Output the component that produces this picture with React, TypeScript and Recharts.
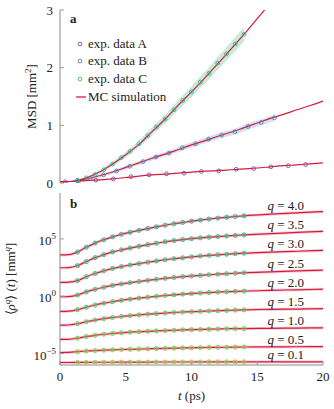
import React from 'react'
import { ComposedChart, Line, Area, XAxis, YAxis, Legend, LabelList } from 'recharts'

const FONT = '"Liberation Serif", "Times New Roman", serif'
const RED = '#d7193f'
const HALO = '#f3a2b3'
const FRAME = '#8a8a8a'
const TICK = '#9a9a9a'
const INK = '#222'

const T_TICKS = [0, 5, 10, 15, 20]
const MSD_TICKS = [0, 1, 2, 3]
const RHO_TICKS = [1e-5, 1, 1e5]

// panel a: MC simulation lines
const T_MC = [0, 1, 2, 3, 4, 5, 6, 7, 8, 9, 10, 11, 12, 13, 14, 15, 16, 17, 18, 19, 20]
const MC_A = [0.02, 0.03, 0.04, 0.055, 0.07, 0.095, 0.12, 0.14, 0.155, 0.17, 0.19, 0.205, 0.215, 0.23, 0.245, 0.26, 0.28, 0.3, 0.315, 0.333, 0.35]
const MC_B = [0.02, 0.03, 0.07, 0.125, 0.19, 0.27, 0.35, 0.43, 0.5, 0.58, 0.66, 0.73, 0.81, 0.88, 0.96, 1.04, 1.12, 1.19, 1.27, 1.34, 1.42]
const MC_C = [0.02, 0.03, 0.09, 0.19, 0.33, 0.49, 0.67, 0.89, 1.11, 1.35, 1.58, 1.82, 2.07, 2.32, 2.58, 2.85, 3.12, 3.39, 3.66, 3.93, 4.2]

// panel a: experimental points
const T_EXP_A = [0.4, 1.4, 2.72, 4.05, 5.4, 6.77, 8.1, 9.43, 10.75, 12.07, 13.4, 14.73, 16.04, 17.36, 18.68]
const EXP_A = [0.02, 0.03, 0.05, 0.07, 0.11, 0.14, 0.16, 0.17, 0.2, 0.21, 0.24, 0.25, 0.28, 0.3, 0.32]
const T_EXP_B = [1.3, 2.3, 3.3, 4.3, 5.3, 6.3, 7.3, 8.3, 9.3, 10.3, 11.3, 12.3, 13.3, 14.3, 15.3, 16.3]
const EXP_B = [0.04, 0.08, 0.14, 0.21, 0.29, 0.37, 0.45, 0.52, 0.61, 0.68, 0.76, 0.83, 0.89, 0.98, 1.05, 1.13]
const SPREAD_B = [0.01, 0.02, 0.025, 0.03, 0.035, 0.035, 0.04, 0.04, 0.045, 0.045, 0.05, 0.05, 0.05, 0.055, 0.055, 0.055]
const T_EXP_C = [1.33, 2, 2.67, 3.33, 4, 4.67, 5.33, 6, 6.67, 7.33, 8, 8.67, 9.33, 10, 10.67, 11.33, 12, 12.67, 13.33, 14]
const EXP_C = [0.05, 0.09, 0.15, 0.23, 0.33, 0.44, 0.55, 0.68, 0.82, 0.97, 1.11, 1.27, 1.43, 1.58, 1.75, 1.9, 2.08, 2.24, 2.41, 2.58]
const SPREAD_C = [0.01, 0.02, 0.025, 0.035, 0.04, 0.045, 0.05, 0.06, 0.065, 0.07, 0.075, 0.08, 0.09, 0.095, 0.1, 0.105, 0.11, 0.115, 0.12, 0.12]

// panel b: log10 of <rho^q>(t)
const T_Q = [0, 0.67, 1.33, 2, 2.67, 3.33, 4, 4.67, 5.33, 6, 6.67, 7.33, 8, 8.67, 9.33, 10, 10.67, 11.33, 12, 12.67, 13.33, 14, 16, 18, 20]
const Q40 = [3.6, 3.62, 3.85, 4.27, 4.63, 4.92, 5.18, 5.4, 5.57, 5.74, 5.9, 6.05, 6.19, 6.32, 6.43, 6.54, 6.64, 6.73, 6.81, 6.88, 6.95, 7.01, 7.15, 7.27, 7.38]
const Q35 = [2.48, 2.5, 2.66, 3.02, 3.36, 3.62, 3.86, 4.04, 4.2, 4.35, 4.49, 4.62, 4.75, 4.85, 4.94, 5.02, 5.09, 5.15, 5.2, 5.25, 5.3, 5.35, 5.45, 5.56, 5.66]
const Q30 = [1.2, 1.22, 1.36, 1.7, 1.98, 2.21, 2.42, 2.58, 2.72, 2.84, 2.96, 3.07, 3.18, 3.27, 3.35, 3.43, 3.5, 3.56, 3.61, 3.66, 3.71, 3.75, 3.84, 3.92, 3.99]
const Q25 = [-0.05, -0.03, 0.1, 0.38, 0.6, 0.78, 0.94, 1.07, 1.18, 1.28, 1.38, 1.47, 1.56, 1.63, 1.7, 1.76, 1.82, 1.87, 1.92, 1.96, 2.0, 2.04, 2.12, 2.2, 2.27]
const Q20 = [-1.33, -1.31, -1.18, -0.96, -0.77, -0.61, -0.48, -0.36, -0.26, -0.17, -0.09, -0.01, 0.06, 0.12, 0.18, 0.23, 0.28, 0.32, 0.36, 0.39, 0.42, 0.45, 0.51, 0.56, 0.61]
const Q15 = [-2.53, -2.51, -2.4, -2.23, -2.08, -1.96, -1.86, -1.77, -1.7, -1.63, -1.57, -1.52, -1.47, -1.42, -1.38, -1.35, -1.32, -1.29, -1.26, -1.24, -1.21, -1.19, -1.15, -1.12, -1.09]
const Q10 = [-3.77, -3.76, -3.66, -3.52, -3.41, -3.32, -3.25, -3.19, -3.14, -3.1, -3.06, -3.03, -3.0, -2.97, -2.94, -2.92, -2.9, -2.88, -2.86, -2.84, -2.83, -2.82, -2.8, -2.78, -2.76]
const Q05 = [-4.91, -4.9, -4.84, -4.78, -4.74, -4.71, -4.68, -4.65, -4.63, -4.61, -4.59, -4.57, -4.55, -4.53, -4.51, -4.5, -4.48, -4.47, -4.46, -4.45, -4.44, -4.43, -4.42, -4.41, -4.4]
const Q01 = [-5.78, -5.78, -5.77, -5.77, -5.76, -5.76, -5.76, -5.75, -5.75, -5.75, -5.75, -5.74, -5.74, -5.74, -5.74, -5.74, -5.73, -5.73, -5.73, -5.73, -5.73, -5.73, -5.72, -5.72, -5.72]

const Q_SERIES = [
  { key: 'q40', label: '4.0', exps: Q40, color: '#3fb68b' },
  { key: 'q35', label: '3.5', exps: Q35, color: '#45ba86' },
  { key: 'q30', label: '3.0', exps: Q30, color: '#4dbd80' },
  { key: 'q25', label: '2.5', exps: Q25, color: '#57c07a' },
  { key: 'q20', label: '2.0', exps: Q20, color: '#62c373' },
  { key: 'q15', label: '1.5', exps: Q15, color: '#6ec76b' },
  { key: 'q10', label: '1.0', exps: Q10, color: '#7bcb62' },
  { key: 'q05', label: '0.5', exps: Q05, color: '#89cf58' },
  { key: 'q01', label: '0.1', exps: Q01, color: '#97d34e' },
]
const MARK_FROM = 2
const MARK_TO = 22
const LABEL_AT = 23

const LEGEND = [
  { name: 'exp. data A', color: '#7d4e9c', kind: 'dot' },
  { name: 'exp. data B', color: '#4f7fb8', kind: 'dot' },
  { name: 'exp. data C', color: '#3ab58a', kind: 'dot' },
  { name: 'MC simulation', color: RED, kind: 'line' },
]

const pts = (ts: number[], vs: number[]) => ts.map((t, i) => ({ t, v: vs[i] }))
const band = (ts: number[], vs: number[], ws: number[]) =>
  ts.map((t, i) => ({ t, range: [vs[i] - ws[i], vs[i] + ws[i]] }))

const qRows = T_Q.map((t, i) => {
  const row: Record<string, number> = { t }
  Q_SERIES.forEach((s) => {
    row[s.key] = Math.pow(10, s.exps[i])
  })
  return row
})

function LegendBox() {
  return (
    <div style={{ fontSize: 13, color: INK, fontFamily: FONT }}>
      {LEGEND.map((r) => (
        <div key={r.name} style={{ display: 'flex', alignItems: 'center', height: 17.6 }}>
          <svg width={16} height={10}>
            {r.kind === 'dot' ? (
              <circle cx={8} cy={5} r={1.9} fill="none" stroke={r.color} strokeWidth={0.9} />
            ) : (
              <line x1={4} x2={14} y1={5} y2={5} stroke={r.color} strokeWidth={1.3} />
            )}
          </svg>
          <span>{r.name}</span>
        </div>
      ))}
    </div>
  )
}

function NumTick(props: any) {
  const { x, y, payload } = props
  return (
    <text x={x} y={y + 4.5} textAnchor="end" fontSize={13} fill={INK}>
      {String(payload.value)}
    </text>
  )
}

function PowTick(props: any) {
  const { x, y, payload } = props
  const e = Math.round(Math.log10(payload.value))
  return (
    <text x={x} y={y + 6} textAnchor="end" fontSize={13} fill={INK}>
      10
      <tspan dy={-6} fontSize={9}>
        {e < 0 ? '\u2212' + Math.abs(e) : String(e)}
      </tspan>
    </text>
  )
}

function qLabel(text: string) {
  return (props: any) => {
    if (props.index !== LABEL_AT) return null
    const x = props.viewBox?.x ?? props.x
    const y = props.viewBox?.y ?? props.y
    return (
      <text x={x - 11} y={y - 3} textAnchor="middle" fontSize={13} fill={INK}>
        <tspan fontStyle="italic">q</tspan>
        <tspan>{' = ' + text}</tspan>
      </text>
    )
  }
}

const msdLabel = (props: any) => {
  const vb = props.viewBox
  const cy = vb.y + vb.height / 2
  return (
    <text transform={`translate(36, ${cy}) rotate(-90)`} textAnchor="middle" fontSize={13} fill={INK}>
      MSD [mm
      <tspan dy={-5} fontSize={9}>2</tspan>
      <tspan dy={5}>]</tspan>
    </text>
  )
}

const rhoLabel = (props: any) => {
  const vb = props.viewBox
  const cy = vb.y + vb.height / 2
  return (
    <text transform={`translate(15, ${cy}) rotate(-90)`} textAnchor="middle" fontSize={13} fill={INK}>
      {'\u27e8'}
      <tspan fontStyle="italic">ρ</tspan>
      <tspan dy={-5} fontSize={9} fontStyle="italic">q</tspan>
      <tspan dy={5}>{'\u27e9 ('}</tspan>
      <tspan fontStyle="italic">t</tspan>
      <tspan>{') [mm'}</tspan>
      <tspan dy={-5} fontSize={9} fontStyle="italic">q</tspan>
      <tspan dy={5}>]</tspan>
    </text>
  )
}

const timeLabel = (props: any) => {
  const vb = props.viewBox
  return (
    <text x={vb.x + vb.width / 2} y={vb.y + 35} textAnchor="middle" fontSize={13} fill={INK}>
      <tspan fontStyle="italic">t</tspan>
      <tspan>{' (ps)'}</tspan>
    </text>
  )
}

function PanelA() {
  return (
    <ComposedChart width={334} height={196} margin={{ top: 10, right: 11, bottom: 13, left: 0 }}>
      <XAxis dataKey="t" type="number" domain={[0, 20]} ticks={T_TICKS} interval={0} height={0} tick={false}
        tickSize={-4} axisLine={{ stroke: FRAME }} tickLine={{ stroke: TICK }} allowDataOverflow />
      <XAxis xAxisId="top" orientation="top" type="number" domain={[0, 20]} ticks={T_TICKS} interval={0} height={0}
        tick={false} tickSize={-4} axisLine={{ stroke: FRAME }} tickLine={{ stroke: TICK }} allowDataOverflow />
      <YAxis type="number" domain={[0, 3]} ticks={MSD_TICKS} interval={0} width={60} tickSize={-4} tickMargin={11}
        tick={<NumTick />} axisLine={{ stroke: FRAME }} tickLine={{ stroke: TICK }}
        allowDataOverflow label={{ content: msdLabel }} />
      <YAxis yAxisId="right" orientation="right" type="number" domain={[0, 3]} ticks={MSD_TICKS} interval={0}
        width={0} tick={false} tickSize={-4} axisLine={{ stroke: FRAME }} tickLine={{ stroke: TICK }} allowDataOverflow />
      <Legend layout="vertical" align="center" verticalAlign="middle"
        wrapperStyle={{ top: 35, left: 72, width: 140 }} content={() => <LegendBox />} />

      <Area data={band(T_EXP_C, EXP_C, SPREAD_C)} dataKey="range" type="monotone" stroke="none"
        fill="#b9e6d0" fillOpacity={0.8} isAnimationActive={false} legendType="none" />
      <Area data={band(T_EXP_B, EXP_B, SPREAD_B)} dataKey="range" type="monotone" stroke="none"
        fill="#c9d9ee" fillOpacity={0.8} isAnimationActive={false} legendType="none" />

      {[MC_A, MC_B, MC_C].map((vs, i) => (
        <Line key={'mc' + i} data={pts(T_MC, vs)} dataKey="v" type="monotone" stroke={RED} strokeWidth={1.2}
          dot={false} activeDot={false} isAnimationActive={false} />
      ))}

      <Line data={pts(T_EXP_A, EXP_A)} dataKey="v" stroke="none" isAnimationActive={false} activeDot={false}
        dot={{ r: 1.9, stroke: '#7d4e9c', strokeWidth: 0.9, fill: 'none' }} />
      <Line data={pts(T_EXP_B, EXP_B)} dataKey="v" stroke="none" isAnimationActive={false} activeDot={false}
        dot={{ r: 1.9, stroke: '#4f7fb8', strokeWidth: 0.9, fill: 'none' }} />
      <Line data={pts(T_EXP_C, EXP_C)} dataKey="v" stroke="none" isAnimationActive={false} activeDot={false}
        dot={{ r: 1.9, stroke: '#3ab58a', strokeWidth: 0.9, fill: 'none' }} />
    </ComposedChart>
  )
}

function PanelB() {
  const marks = qRows.slice(MARK_FROM, MARK_TO)
  return (
    <ComposedChart width={334} height={221} data={qRows} margin={{ top: 5, right: 11, bottom: 0, left: 0 }}>
      <XAxis dataKey="t" type="number" domain={[0, 20]} ticks={T_TICKS} interval={0} height={44} tickSize={-4}
        tickMargin={11} tick={{ fontSize: 13, fill: INK }} axisLine={{ stroke: FRAME }}
        tickLine={{ stroke: TICK }} allowDataOverflow label={{ content: timeLabel }} />
      <XAxis xAxisId="top" orientation="top" type="number" domain={[0, 20]} ticks={T_TICKS} interval={0} height={0}
        tick={false} tickSize={-4} axisLine={{ stroke: FRAME }} tickLine={{ stroke: TICK }} allowDataOverflow />
      <YAxis type="number" scale="log" domain={[1e-6, 1e9]} ticks={RHO_TICKS} interval={0} width={60} tickSize={-4}
        tickMargin={8} tick={<PowTick />} axisLine={{ stroke: FRAME }} tickLine={{ stroke: TICK }}
        allowDataOverflow label={{ content: rhoLabel }} />
      <YAxis yAxisId="right" orientation="right" type="number" scale="log" domain={[1e-6, 1e9]}
        ticks={RHO_TICKS} interval={0} width={0} tick={false} tickSize={-4} axisLine={{ stroke: FRAME }}
        tickLine={{ stroke: TICK }} allowDataOverflow />

      {Q_SERIES.map((s) => (
        <Line key={'h' + s.key} dataKey={s.key} type="monotone" stroke={HALO} strokeOpacity={0.55}
          strokeWidth={3} dot={false} activeDot={false} isAnimationActive={false} />
      ))}
      {Q_SERIES.map((s) => (
        <Line key={'l' + s.key} dataKey={s.key} type="monotone" stroke={RED} strokeWidth={1.2}
          dot={false} activeDot={false} isAnimationActive={false}>
          <LabelList dataKey={s.key} content={qLabel(s.label)} />
        </Line>
      ))}
      {Q_SERIES.map((s) => (
        <Line key={'m' + s.key} data={marks} dataKey={s.key} stroke="none" activeDot={false}
          isAnimationActive={false}
          dot={{ r: 2.1, stroke: s.color, strokeWidth: 0.9, fill: s.color, fillOpacity: 0.45 }} />
      ))}
    </ComposedChart>
  )
}

export default function App() {
  return (
    <div style={{ position: 'absolute', left: 0, top: 0, width: 334, height: 409, background: '#fff', fontFamily: FONT, color: INK }}>
      <div style={{ position: 'absolute', left: 0, top: 0 }}>
        <PanelA />
      </div>
      <div style={{ position: 'absolute', left: 0, top: 188 }}>
        <PanelB />
      </div>
      <div style={{ position: 'absolute', left: 70, top: 12, fontSize: 13, lineHeight: '13px', fontWeight: 'bold' }}>a</div>
      <div style={{ position: 'absolute', left: 70, top: 197, fontSize: 13, lineHeight: '13px', fontWeight: 'bold' }}>b</div>
    </div>
  )
}
